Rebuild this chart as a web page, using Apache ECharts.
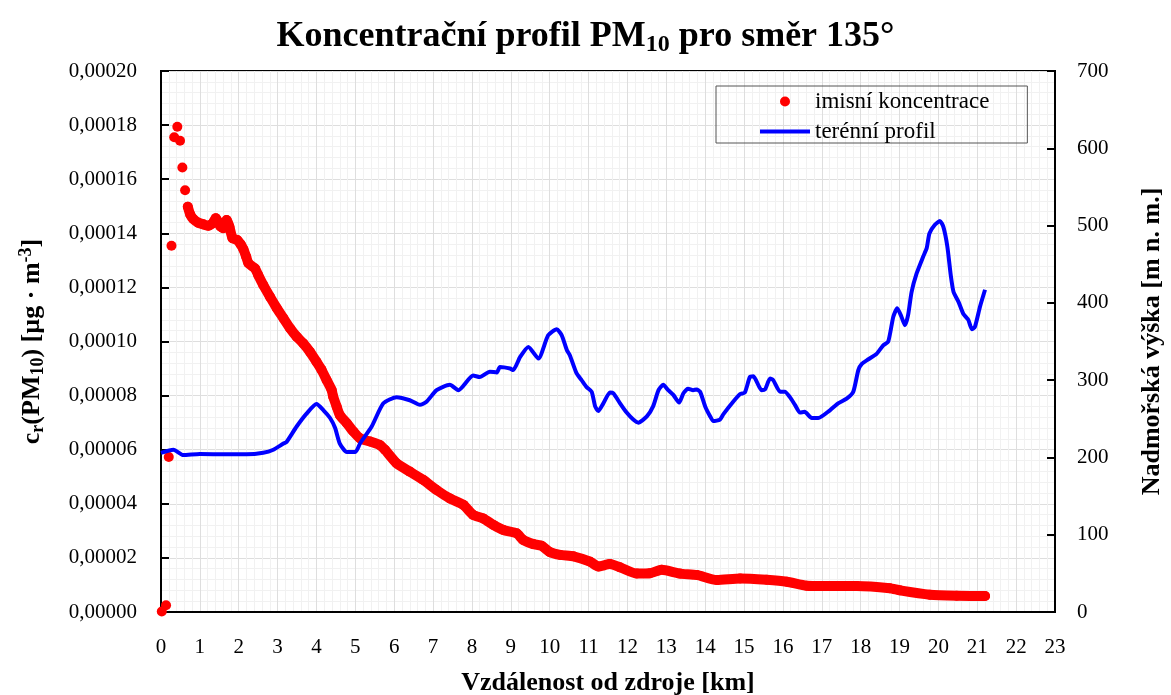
<!DOCTYPE html>
<html>
<head>
<meta charset="utf-8">
<script src="https://cdn.jsdelivr.net/npm/echarts@6/dist/echarts.min.js"></script>
<style>
  html, body { margin: 0; padding: 0; background: #fff; }
  #chart { width: 1171px; height: 695px; }
</style>
</head>
<body>
<div id="chart"></div>
<script>
// vzdalenost [km] a imisni koncentrace [ug/m3]
var distKonc = [0.02, 0.13, 0.20, 0.27, 0.34, 0.42, 0.49, 0.55, 0.62, 0.69,
  0.75, 0.83, 0.96, 1.09, 1.22, 1.33, 1.41, 1.47, 1.53, 1.60,
  1.69, 1.76, 1.84, 1.96, 2.05, 2.12, 2.19, 2.25, 2.42, 2.50,
  2.63, 2.80, 2.98, 3.15, 3.32, 3.49, 3.66, 3.83, 4.00, 4.13,
  4.26, 4.39, 4.43, 4.52, 4.60, 4.78, 4.95, 5.12, 5.38, 5.63,
  5.76, 6.06, 6.40, 6.75, 7.09, 7.43, 7.78, 8.03, 8.29, 8.55,
  8.81, 9.15, 9.32, 9.58, 9.79, 10.00, 10.27, 10.61, 11.04, 11.25,
  11.55, 11.81, 12.24, 12.58, 12.88, 13.35, 13.78, 14.30, 14.90, 15.58,
  16.10, 16.61, 17.04, 17.90, 18.75, 19.01, 19.78, 20.47, 21.20];
var konc = [0.0000002, 0.0000025, 0.0000573, 0.0001354, 0.0001755, 0.0001794, 0.0001742, 0.0001643, 0.0001559, 0.0001498,
  0.0001470, 0.0001453, 0.0001439, 0.0001433, 0.0001428, 0.0001437, 0.0001456, 0.0001443, 0.0001425, 0.0001419,
  0.0001449, 0.0001424, 0.0001382, 0.0001375, 0.0001359, 0.0001341, 0.0001314, 0.0001289, 0.0001270, 0.0001246,
  0.0001209, 0.0001166, 0.0001123, 0.0001086, 0.0001049, 0.0001018, 0.0000993, 0.0000962, 0.0000925, 0.0000895,
  0.0000858, 0.0000821, 0.0000796, 0.0000759, 0.0000728, 0.0000698, 0.0000667, 0.0000642, 0.0000630, 0.0000617,
  0.0000600, 0.0000550, 0.0000519, 0.0000488, 0.0000451, 0.0000420, 0.0000396, 0.0000359, 0.0000346, 0.0000322,
  0.0000303, 0.0000291, 0.0000266, 0.0000251, 0.0000245, 0.0000222, 0.0000211, 0.0000206, 0.0000186, 0.0000168,
  0.0000177, 0.0000165, 0.0000142, 0.0000143, 0.0000156, 0.0000142, 0.0000137, 0.0000118, 0.0000124, 0.0000119,
  0.0000112, 0.0000097, 0.0000096, 0.0000096, 0.0000088, 0.0000080, 0.0000064, 0.0000060, 0.0000059];
// od tohoto indexu jsou body tak huste, ze splyvaji do pasu
var hustyOd = 9;

// terenni profil [m n. m.]
var distTeren = [0.00, 0.32, 0.57, 1.00, 1.69, 2.20, 2.63, 2.89, 3.15, 3.23,
  3.49, 3.75, 4.00, 4.18, 4.35, 4.48, 4.60, 4.78, 5.00, 5.12,
  5.42, 5.72, 6.06, 6.40, 6.66, 6.83, 7.09, 7.43, 7.65, 8.03,
  8.20, 8.46, 8.64, 8.72, 8.98, 9.06, 9.24, 9.45, 9.71, 9.96,
  10.18, 10.31, 10.44, 10.52, 10.69, 10.82, 10.95, 11.08, 11.17, 11.25,
  11.38, 11.55, 11.64, 11.81, 11.98, 12.15, 12.28, 12.50, 12.66, 12.80,
  12.92, 13.05, 13.18, 13.33, 13.44, 13.56, 13.69, 13.78, 13.87, 14.00,
  14.13, 14.21, 14.38, 14.47, 14.72, 14.90, 15.02, 15.15, 15.24, 15.45,
  15.54, 15.67, 15.75, 15.93, 16.05, 16.18, 16.31, 16.44, 16.56, 16.74,
  16.91, 17.21, 17.42, 17.64, 17.81, 17.94, 18.03, 18.20, 18.41, 18.58,
  18.71, 18.84, 18.94, 19.05, 19.14, 19.22, 19.31, 19.44, 19.61, 19.70,
  19.77, 19.91, 20.04, 20.13, 20.23, 20.32, 20.39, 20.52, 20.64, 20.77,
  20.86, 20.94, 21.07, 21.20];
var teren = [206, 210, 203, 204.5, 204, 204, 206, 210, 218, 220,
  240, 257, 269, 261, 251, 238, 218, 207, 207, 218,
  240, 270, 278, 274, 268, 272, 287, 294, 287, 306,
  304, 311, 310, 317, 315, 313, 330, 343, 328, 358,
  366, 358, 339, 332, 309, 300, 291, 285, 266, 260,
  270, 284, 283, 270, 258, 249, 245, 253, 266, 287,
  294, 287, 281, 271, 283, 289, 287, 288, 285, 266,
  253, 247, 249, 256, 272, 282, 284, 304, 305, 287,
  288, 302, 300, 285, 285, 278, 268, 258, 259, 251,
  251, 261, 270, 276, 285, 313, 321, 327, 334, 345,
  350, 382, 393, 382, 371, 384, 414, 438, 460, 471,
  490, 501, 506, 498, 473, 435, 414, 401, 386, 378,
  366, 369, 395, 417];

var font = 'Liberation Serif';

function pary(xs, ys, od) {
  var out = [];
  for (var i = od || 0; i < xs.length; i++) out.push([xs[i], ys[i]]);
  return out;
}

var myChart = echarts.init(document.getElementById('chart'));
var option = {
  animation: false,
  backgroundColor: '#fff',
  title: {
    text: '{a|Koncentrační profil PM}{s|10}{a| pro směr 135°}',
    left: 'center',
    top: 12,
    textStyle: {
      rich: {
        a: {fontFamily: font, fontWeight: 'bold', fontSize: 36, lineHeight: 40, color: '#000'},
        s: {fontFamily: font, fontWeight: 'bold', fontSize: 24, lineHeight: 16, verticalAlign: 'bottom', color: '#000'}
      }
    }
  },
  legend: {
    orient: 'vertical',
    left: 716,
    top: 86,
    itemWidth: 50,
    itemHeight: 10,
    itemGap: 7,
    borderColor: '#555',
    borderWidth: 1,
    borderRadius: 0,
    padding: [4, 38, 0, 44],
    textStyle: {fontFamily: font, fontSize: 23, color: '#000'},
    data: [
      {name: 'imisní koncentrace', icon: 'circle', itemStyle: {color: '#ff0000', opacity: 1}},
      {name: 'terénní profil', icon: 'path://M0,0H50V4H0Z', itemStyle: {color: '#0000ff'}}
    ]
  },
  grid: {
    left: 161,
    right: 116,
    top: 71,
    bottom: 83,
    outerBoundsMode: 'none',
    show: true,
    borderColor: '#000',
    borderWidth: 2
  },
  xAxis: {
    type: 'value',
    min: 0,
    max: 23,
    interval: 1,
    name: 'Vzdálenost od zdroje [km]',
    nameLocation: 'middle',
    nameGap: 58,
    nameTextStyle: {fontFamily: font, fontWeight: 'bold', fontSize: 26, color: '#000'},
    axisLine: {show: true, lineStyle: {color: '#000', width: 2}},
    axisTick: {show: false},
    minorTick: {show: false, splitNumber: 5},
    axisLabel: {fontFamily: font, fontSize: 21, color: '#000', margin: 25},
    splitLine: {show: true, lineStyle: {color: '#dedede', width: 1}},
    minorSplitLine: {show: true, lineStyle: {color: '#f1f1f1', width: 1}}
  },
  yAxis: [{
    type: 'value',
    min: 0,
    max: 0.0002,
    interval: 0.00002,
    position: 'left',
    name: '{a|c}{s|r}{a|(PM}{s|10}{a|) [µg · m}{p|-3}{a|]}',
    nameLocation: 'middle',
    nameRotate: 90,
    nameGap: 114,
    nameTextStyle: {
      rich: {
        a: {fontFamily: font, fontWeight: 'bold', fontSize: 26, lineHeight: 30, color: '#000'},
        s: {fontFamily: font, fontWeight: 'bold', fontSize: 18, lineHeight: 10, verticalAlign: 'bottom', color: '#000'},
        p: {fontFamily: font, fontWeight: 'bold', fontSize: 18, lineHeight: 10, verticalAlign: 'top', color: '#000'}
      }
    },
    axisLine: {show: true, lineStyle: {color: '#000', width: 2}},
    axisTick: {show: true, inside: true, length: 8, lineStyle: {color: '#000', width: 2}},
    minorTick: {show: false, splitNumber: 5},
    axisLabel: {
      fontFamily: font, fontSize: 21, color: '#000', margin: 24,
      formatter: function (v) { return v.toFixed(5).replace('.', ','); }
    },
    splitLine: {show: true, lineStyle: {color: '#dedede', width: 1}},
    minorSplitLine: {show: true, lineStyle: {color: '#f1f1f1', width: 1}}
  }, {
    type: 'value',
    min: 0,
    max: 700,
    interval: 100,
    position: 'right',
    name: 'Nadmořská výška [m n. m.]',
    nameLocation: 'middle',
    nameRotate: 90,
    nameGap: 84,
    nameTextStyle: {fontFamily: font, fontWeight: 'bold', fontSize: 26, color: '#000'},
    axisLine: {show: true, lineStyle: {color: '#000', width: 2}},
    axisTick: {show: true, inside: true, length: 8, lineStyle: {color: '#000', width: 2}},
    axisLabel: {fontFamily: font, fontSize: 21, color: '#000', margin: 22},
    splitLine: {show: false}
  }],
  series: [{
    name: 'imisní koncentrace pás',
    type: 'line',
    yAxisIndex: 0,
    data: pary(distKonc, konc, hustyOd),
    showSymbol: false,
    symbol: 'none',
    smooth: 0.2,
    lineStyle: {color: '#ff0000', width: 10, cap: 'round', join: 'round'},
    z: 2
  }, {
    name: 'imisní koncentrace',
    type: 'scatter',
    yAxisIndex: 0,
    data: pary(distKonc, konc),
    symbol: 'circle',
    symbolSize: 10,
    itemStyle: {color: '#ff0000', opacity: 1},
    z: 3
  }, {
    name: 'terénní profil',
    type: 'line',
    yAxisIndex: 1,
    data: pary(distTeren, teren),
    showSymbol: false,
    symbol: 'none',
    smooth: 0.2,
    itemStyle: {color: '#0000ff'},
    lineStyle: {color: '#0000ff', width: 4, join: 'round'},
    z: 4
  }]
};
myChart.setOption(option);
</script>
</body>
</html>
